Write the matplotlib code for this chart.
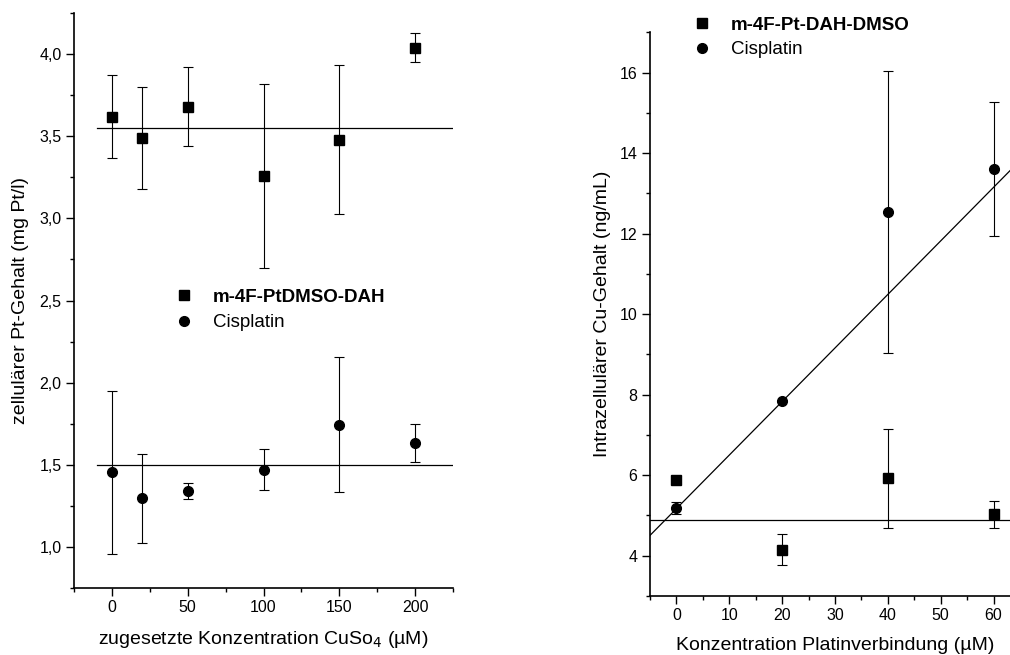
import matplotlib.pyplot as plt
import numpy as np
from matplotlib.lines import Line2D
from matplotlib.ticker import MultipleLocator, FuncFormatter

plt.rcParams['font.family'] = ['Liberation Sans', 'DejaVu Sans']

# left panel: cellular Pt content vs added CuSO4
cuso4_conc = [0, 20, 50, 100, 150, 200]
pt_m4f = [3.62, 3.49, 3.68, 3.26, 3.48, 4.04]
pt_m4f_err = [0.25, 0.31, 0.24, 0.56, 0.455, 0.09]
pt_cispl = [1.455, 1.295, 1.34, 1.47, 1.745, 1.632]
pt_cispl_err = [0.495, 0.27, 0.05, 0.125, 0.41, 0.115]
pt_m4f_level = 3.55
pt_cispl_level = 1.50

# right panel: intracellular Cu content vs Pt compound concentration
pt_conc = [0, 20, 40, 60]
cu_m4f = [5.88, 4.15, 5.93, 5.03]
cu_m4f_err = [0.0, 0.39, 1.23, 0.33]
cu_cispl = [5.18, 7.84, 12.54, 13.6]
cu_cispl_err = [0.15, 0.0, 3.5, 1.67]
cu_m4f_level = 4.88
cu_cispl_fit = (5.17, 0.133)  # intercept, slope

LABEL_FS = 14
LEGEND_FS = 13.5


def comma(v, pos):
    return f'{v:.1f}'.replace('.', ',')


def style_axis(ax):
    ax.spines['top'].set_visible(False)
    ax.spines['right'].set_visible(False)
    ax.spines['left'].set_linewidth(1.2)
    ax.spines['bottom'].set_linewidth(1.2)
    ax.tick_params(which='major', direction='out', length=5.5, width=1.0, labelsize=11.5)
    ax.tick_params(which='minor', direction='out', length=3, width=1.0)


fig = plt.figure(figsize=(10.1, 6.55), dpi=100)

eb = dict(color='k', ecolor='k', elinewidth=0.8, capsize=3.5, capthick=0.8, ms=7, linestyle='none')

# ---- left
ax1 = fig.add_axes([74 / 1010, 1 - 588 / 655, (453 - 74) / 1010, (588 - 13) / 655])
ax1.errorbar(cuso4_conc, pt_m4f, yerr=pt_m4f_err, fmt='s', **eb)
ax1.errorbar(cuso4_conc, pt_cispl, yerr=pt_cispl_err, fmt='o', **eb)
ax1.plot([-10, 225], [pt_m4f_level] * 2, color='k', lw=0.9)
ax1.plot([-10, 225], [pt_cispl_level] * 2, color='k', lw=0.9)
ax1.set_xlim(-25, 225)
ax1.set_ylim(0.75, 4.25)
ax1.xaxis.set_major_locator(MultipleLocator(50))
ax1.xaxis.set_minor_locator(MultipleLocator(25))
ax1.yaxis.set_major_locator(MultipleLocator(0.5))
ax1.yaxis.set_minor_locator(MultipleLocator(0.25))
ax1.yaxis.set_major_formatter(FuncFormatter(comma))
style_axis(ax1)
ax1.set_xlabel('zugesetzte Konzentration CuSo$_4$ (µM)', fontsize=LABEL_FS, labelpad=9.5)
ax1.set_ylabel('zellulärer Pt-Gehalt (mg Pt/l)', fontsize=LABEL_FS, labelpad=7.5)

h_sq = Line2D([], [], marker='s', color='k', ms=7, linestyle='none')
h_ci = Line2D([], [], marker='o', color='k', ms=7, linestyle='none')
leg1 = ax1.legend([h_sq, h_ci], ['m-4F-PtDMSO-DAH', 'Cisplatin'], loc='upper left',
                  bbox_to_anchor=(174.6 / 1010, 1 - 288.6 / 655), bbox_transform=fig.transFigure,
                  frameon=False, fontsize=LEGEND_FS, handlelength=1.0, handletextpad=1.05,
                  labelspacing=0.44, borderpad=0, borderaxespad=0)
leg1.get_texts()[0].set_fontweight('bold')

# ---- right
ax2 = fig.add_axes([650 / 1010, 1 - 596 / 655, (1020 - 650) / 1010, (596 - 32.3) / 655])
ax2.errorbar(pt_conc, cu_m4f, yerr=cu_m4f_err, fmt='s', **eb)
ax2.errorbar(pt_conc, cu_cispl, yerr=cu_cispl_err, fmt='o', **eb)
fx = np.array([-5, 65])
ax2.plot(fx, [cu_m4f_level] * 2, color='k', lw=0.9)
ax2.plot(fx, cu_cispl_fit[0] + cu_cispl_fit[1] * fx, color='k', lw=0.9)
ax2.set_xlim(-5, 65)
ax2.set_ylim(3, 17)
ax2.xaxis.set_major_locator(MultipleLocator(10))
ax2.xaxis.set_minor_locator(MultipleLocator(5))
ax2.yaxis.set_major_locator(MultipleLocator(2))
ax2.yaxis.set_minor_locator(MultipleLocator(1))
style_axis(ax2)
ax2.set_xlabel('Konzentration Platinverbindung (µM)', fontsize=LABEL_FS, labelpad=9.5)
ax2.set_ylabel('Intrazellulärer Cu-Gehalt (ng/mL)', fontsize=LABEL_FS, labelpad=6)

leg2 = ax2.legend([h_sq, h_ci], ['m-4F-Pt-DAH-DMSO', 'Cisplatin'], loc='upper left',
                  bbox_to_anchor=(692.3 / 1010, 1 - 16.6 / 655), bbox_transform=fig.transFigure,
                  frameon=False, fontsize=LEGEND_FS, handlelength=1.0, handletextpad=1.05,
                  labelspacing=0.39, borderpad=0, borderaxespad=0)
leg2.get_texts()[0].set_fontweight('bold')

fig.savefig('out.png', dpi=100)
